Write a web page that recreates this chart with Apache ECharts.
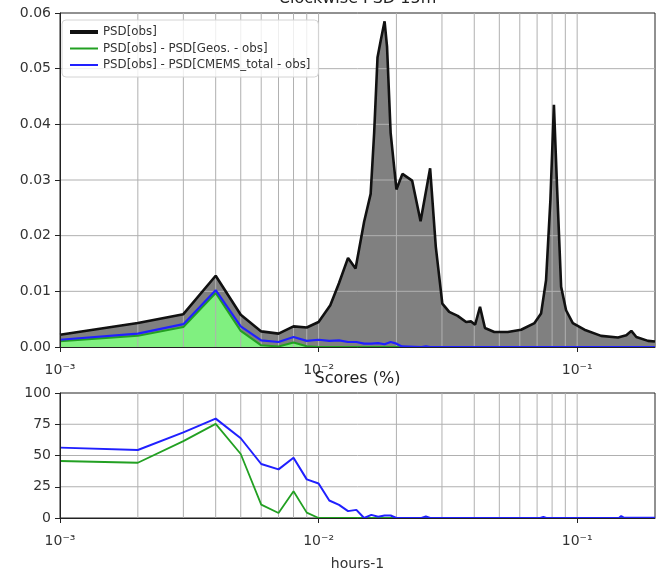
<!DOCTYPE html>
<html>
<head>
<meta charset="utf-8">
<script src="https://cdn.jsdelivr.net/npm/echarts@6/dist/echarts.min.js"></script>
<style>html,body{margin:0;padding:0;background:#fff;}#c{width:664px;height:578px;}</style>
</head>
<body>
<div id="c"></div>
<script>
// ---- data ----
const psdFreq = [0.001,0.002,0.003,0.004,0.005,0.006,0.007,0.008,0.009,0.010,
  0.0111,0.0120,0.0130,0.0139,0.0150,0.0159,0.0164,0.0169,0.0174,0.0180,0.0184,0.0190,0.0200,
  0.0211,0.0230,0.0248,0.0270,0.0284,0.0301,0.0320,0.0345,0.0372,0.0389,0.0403,0.0421,0.0440,
  0.0478,0.0539,0.0607,0.0684,0.0725,0.0758,0.0788,0.0813,0.0836,0.0867,0.0906,0.0962,
  0.1067,0.1238,0.1438,0.1549,0.1620,0.1694,0.1879,0.2000];
const psdObs = [0.0022,0.0043,0.0059,0.0128,0.0058,0.0028,0.0024,0.0037,0.0035,0.0045,
  0.0075,0.0115,0.0160,0.0141,0.0225,0.0275,0.0384,0.0520,0.0551,0.0585,0.0539,0.0384,0.0283,
  0.0311,0.0299,0.0226,0.0321,0.0180,0.0078,0.0063,0.0056,0.0045,0.0046,0.0040,0.0072,0.0034,
  0.0027,0.0027,0.0031,0.0043,0.0060,0.0120,0.0264,0.0435,0.0288,0.0108,0.0066,0.0043,
  0.0031,0.0020,0.0017,0.0021,0.0029,0.0018,0.0011,0.0010];

const geosFreq = [0.001,0.002,0.003,0.004,0.005,0.006,0.007,0.008,0.009,0.010,0.2];
const psdGeos  = [0.00105,0.0020,0.0036,0.0097,0.0029,0.0003,0.0001,0.0008,0.00015,0,0];

const cmemsFreq = [0.001,0.002,0.003,0.004,0.005,0.006,0.007,0.008,0.009,0.010,
  0.011,0.012,0.013,0.014,0.015,0.016,0.017,0.018,0.019,0.020,0.021,0.025,0.026,0.027,0.2];
const psdCmems  = [0.0013,0.0024,0.0041,0.0102,0.0037,0.0012,0.0009,0.0018,0.0011,0.0013,
  0.0011,0.0012,0.0009,0.0009,0.0006,0.0006,0.0007,0.0005,0.0009,0.0006,0.0001,0,0.0001,0,0];

const scoreGeosFreq = [0.001,0.002,0.003,0.004,0.005,0.006,0.007,0.008,0.009,0.010,0.2];
const scoreGeos     = [45.6,44.2,61.5,75.3,51.2,10.7,4.0,21.4,4.3,0,0];

const scoreCmemsFreq = [0.001,0.002,0.003,0.004,0.005,0.006,0.007,0.008,0.009,0.010,
  0.011,0.012,0.013,0.014,0.015,0.016,0.017,0.018,0.019,0.020,0.025,0.026,0.027,
  0.072,0.074,0.076,0.145,0.148,0.151,0.2];
const scoreCmems     = [56.3,54.4,68.5,79.5,63.8,43.2,38.9,48.2,30.9,27.6,
  14,10.5,5.5,6.5,0,2.5,1,2,2,0,0,1.2,0,
  0,0.8,0,0,1.5,0.5,0.3];

const freqRange = [0.001, 0.2];
const psdTicks = [0,0.01,0.02,0.03,0.04,0.05,0.06];
const scoreTicks = [0,25,50,75,100];
const gridFreqs = [0.002,0.003,0.004,0.005,0.006,0.007,0.008,0.009,
  0.01,0.02,0.03,0.04,0.05,0.06,0.07,0.08,0.09,0.1];

const seriesNames = ['PSD[obs]','PSD[obs] - PSD[Geos. - obs]','PSD[obs] - PSD[CMEMS_total - obs]'];

// ---- helpers ----
const zip = (xs, ys) => xs.map((x, i) => [x, ys[i]]);
const sup = {'-':'\u207B','0':'\u2070','1':'\u00B9','2':'\u00B2','3':'\u00B3','4':'\u2074','5':'\u2075','6':'\u2076','7':'\u2077','8':'\u2078','9':'\u2079'};
function logLabel(v) {
  const l = Math.log10(v), e = Math.round(l);
  if (Math.abs(l - e) > 1e-6) return '';
  return '10' + String(e).split('').map(c => sup[c]).join('');
}
const FONT = 'DejaVu Sans';
const GRID_COLOR = '#b0b0b0';

function xAxisFor(gi, extra) {
  return Object.assign({
    type:'log', logBase:10, gridIndex:gi, min:freqRange[0], max:freqRange[1], z:6,
    axisLine:{show:true, lineStyle:{color:'#222', width:1}},
    axisTick:{show:true, length:5, lineStyle:{color:'#222'}},
    axisLabel:{formatter:logLabel, fontSize:14, color:'#333', fontFamily:FONT, margin:16, showMaxLabel:false},
    splitLine:{show:false}
  }, extra || {});
}
// vertical grid lines at each frequency, spanning the y tick range
function vGridSeries(idx, yTicks) {
  const y0 = yTicks[0], y1 = yTicks[yTicks.length - 1];
  return {
    type:'custom', xAxisIndex:idx, yAxisIndex:idx, z:3, silent:true, animation:false, clip:true,
    data: gridFreqs.map(f => [f, y0]),
    renderItem: function (params, api) {
      const f = api.value(0);
      const p1 = api.coord([f, y0]), p2 = api.coord([f, y1]);
      return {type:'line', shape:{x1:p1[0], y1:p1[1], x2:p2[0], y2:p2[1]},
              style:{stroke:GRID_COLOR, lineWidth:1}};
    }
  };
}
// horizontal grid lines at inner y ticks
function hGridSeries(idx, yTicks) {
  const inner = yTicks.slice(1, -1);
  return {
    type:'custom', xAxisIndex:idx, yAxisIndex:idx, z:3, silent:true, animation:false, clip:true,
    data: inner.map(v => [freqRange[0], v]),
    renderItem: function (params, api) {
      const v = api.value(1);
      const p1 = api.coord([freqRange[0], v]), p2 = api.coord([freqRange[1], v]);
      return {type:'line', shape:{x1:p1[0], y1:p1[1], x2:p2[0], y2:p2[1]},
              style:{stroke:GRID_COLOR, lineWidth:1}};
    }
  };
}

const chart = echarts.init(document.getElementById('c'), null, {renderer:'canvas'});
chart.setOption({
  animation:false,
  backgroundColor:'#fff',
  textStyle:{fontFamily:FONT},
  grid:[
    {left:60, right:9, top:13, height:334, show:true, borderColor:'#222', borderWidth:1, backgroundColor:'transparent'},
    {left:60, right:9, top:393, height:125, show:true, borderColor:'#222', borderWidth:1, backgroundColor:'transparent'}
  ],
  xAxis:[
    xAxisFor(0),
    xAxisFor(1, {name:'hours-1', nameLocation:'middle', nameGap:39,
      nameTextStyle:{fontSize:14, color:'#333', fontFamily:FONT}})
  ],
  yAxis:[
    {type:'value', gridIndex:0, min:psdTicks[0], max:psdTicks[psdTicks.length-1], interval:0.01, z:6,
     axisLine:{show:true, lineStyle:{color:'#222'}},
     axisTick:{show:true, length:5, lineStyle:{color:'#222'}},
     axisLabel:{formatter:v => v.toFixed(2), fontSize:14, color:'#333', fontFamily:FONT, margin:9},
     splitLine:{show:false}},
    {type:'value', gridIndex:1, min:scoreTicks[0], max:scoreTicks[scoreTicks.length-1], interval:25, z:6,
     axisLine:{show:true, lineStyle:{color:'#222'}},
     axisTick:{show:true, length:5, lineStyle:{color:'#222'}},
     axisLabel:{fontSize:14, color:'#333', fontFamily:FONT, margin:9},
     splitLine:{show:false}}
  ],
  legend:{
    orient:'vertical', left:62, top:20, z:10,
    itemWidth:28, itemHeight:12, itemGap:4.5,
    padding:[6,8,6,8],
    backgroundColor:'rgba(255,255,255,0.8)', borderColor:'#d4d4d4', borderWidth:1, borderRadius:4,
    textStyle:{fontSize:11.8, color:'#333', fontFamily:FONT},
    data:[
      {name:seriesNames[0], icon:'path://M0,0H28V4H0Z'},
      {name:seriesNames[1], icon:'path://M0,0H28V2H0Z'},
      {name:seriesNames[2], icon:'path://M0,0H28V2H0Z'}
    ]
  },
  graphic:[
    {type:'text', x:357.5, y:-1, z:20, style:{text:'Clockwise PSD 15m', align:'center', verticalAlign:'middle', fontSize:16, fontFamily:FONT, fill:'#222'}},
    {type:'text', x:357.5, y:379, z:20, style:{text:'Scores (%)', align:'center', verticalAlign:'middle', fontSize:16, fontFamily:FONT, fill:'#222'}}
  ],
  series:[
    // filled areas (under grid lines)
    {name:'obsArea', type:'line', xAxisIndex:0, yAxisIndex:0, data:zip(psdFreq, psdObs), z:1,
     symbol:'none', lineStyle:{width:0}, areaStyle:{color:'#808080', opacity:1}, silent:true},
    {name:'geosArea', type:'line', xAxisIndex:0, yAxisIndex:0, data:zip(geosFreq, psdGeos), z:2,
     symbol:'none', lineStyle:{width:0}, areaStyle:{color:'#80f080', opacity:1}, silent:true},
    // grid lines
    vGridSeries(0, psdTicks), hGridSeries(0, psdTicks),
    vGridSeries(1, scoreTicks), hGridSeries(1, scoreTicks),
    // lines top
    {name:seriesNames[1], type:'line', xAxisIndex:0, yAxisIndex:0, data:zip(geosFreq, psdGeos), z:4,
     symbol:'none', color:'#22a022', lineStyle:{width:2, color:'#22a022'}},
    {name:seriesNames[2], type:'line', xAxisIndex:0, yAxisIndex:0, data:zip(cmemsFreq, psdCmems), z:4,
     symbol:'none', color:'#2020ff', lineStyle:{width:2.2, color:'#2020ff'}},
    {name:seriesNames[0], type:'line', xAxisIndex:0, yAxisIndex:0, data:zip(psdFreq, psdObs), z:5,
     symbol:'none', color:'#111', lineStyle:{width:2.6, color:'#111'}},
    // lines bottom
    {name:seriesNames[1], type:'line', xAxisIndex:1, yAxisIndex:1, data:zip(scoreGeosFreq, scoreGeos), z:4,
     symbol:'none', color:'#22a022', lineStyle:{width:1.8, color:'#22a022'}},
    {name:seriesNames[2], type:'line', xAxisIndex:1, yAxisIndex:1, data:zip(scoreCmemsFreq, scoreCmems), z:4,
     symbol:'none', color:'#2020ff', lineStyle:{width:2, color:'#2020ff'}}
  ]
});
</script>
</body>
</html>
